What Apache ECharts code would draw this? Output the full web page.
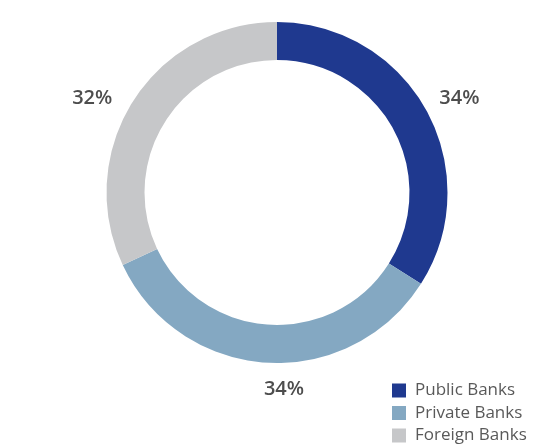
<!DOCTYPE html>
<html>
<head>
<meta charset="utf-8">
<script src="https://cdn.jsdelivr.net/npm/echarts@6/dist/echarts.min.js"></script>
<style>html,body{margin:0;padding:0;background:#fff;}#c{width:555px;height:448px;}</style>
</head>
<body>
<div id="c"></div>
<script>
const categories = ['Public Banks', 'Private Banks', 'Foreign Banks'];
const shares = [34, 34, 32];
const colors = ['#1f398f', '#84a8c2', '#c6c7c9'];
const labelNudge = [[1, 6], [20, -10], [-10, 17]];

const chart = echarts.init(document.getElementById('c'));
chart.setOption({
  animation: false,
  legend: {
    orient: 'vertical',
    left: 392,
    top: 382,
    height: 120,
    padding: 0,
    itemWidth: 14,
    itemHeight: 14,
    itemGap: 5.5,
    icon: 'rect',
    data: categories,
    textStyle: { fontFamily: 'Open Sans', fontSize: 17, color: '#595959', padding: [0, 0, 0, 4] }
  },
  series: [
    {
      type: 'pie',
      center: [277, 192.5],
      radius: [132.5, 170.5],
      startAngle: 90,
      clockwise: true,
      silent: true,
      label: { show: false },
      labelLine: { show: false },
      data: categories.map((n, i) => ({ name: n, value: shares[i], itemStyle: { color: colors[i] } }))
    },
    {
      type: 'pie',
      center: [277, 192.5],
      radius: [196, 212],
      startAngle: 90,
      clockwise: true,
      silent: true,
      legendHoverLink: false,
      itemStyle: { color: 'rgba(0,0,0,0)' },
      labelLine: { show: false },
      label: {
        show: true,
        position: 'inside',
        formatter: '{c}%',
        fontFamily: 'Open Sans',
        fontSize: 20,
        fontWeight: 600,
        color: '#4d4d4d'
      },
      data: categories.map((n, i) => ({ name: n, value: shares[i], label: { offset: labelNudge[i] } }))
    }
  ]
});
</script>
</body>
</html>
